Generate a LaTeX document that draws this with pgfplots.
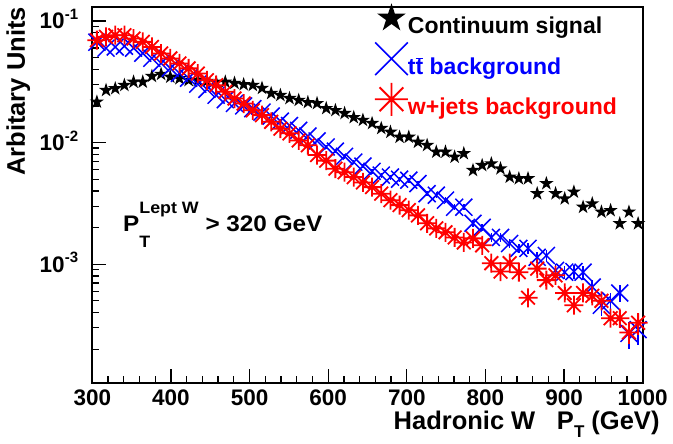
\documentclass[border=0pt]{standalone}
\usepackage{fontspec}
\setmainfont{Liberation Sans}
\usepackage{pgfplots}
\pgfplotsset{compat=1.18}
\usepackage{pgfplotstable}
\usetikzlibrary{plotmarks}

\pgfdeclareplotmark{fstar}{%
  \pgfpathmoveto{\pgfpointpolar{90}{\pgfplotmarksize}}%
  \pgfpathlineto{\pgfpointpolar{126}{0.382\pgfplotmarksize}}%
  \pgfpathlineto{\pgfpointpolar{162}{\pgfplotmarksize}}%
  \pgfpathlineto{\pgfpointpolar{198}{0.382\pgfplotmarksize}}%
  \pgfpathlineto{\pgfpointpolar{234}{\pgfplotmarksize}}%
  \pgfpathlineto{\pgfpointpolar{270}{0.382\pgfplotmarksize}}%
  \pgfpathlineto{\pgfpointpolar{306}{\pgfplotmarksize}}%
  \pgfpathlineto{\pgfpointpolar{342}{0.382\pgfplotmarksize}}%
  \pgfpathlineto{\pgfpointpolar{18}{\pgfplotmarksize}}%
  \pgfpathlineto{\pgfpointpolar{54}{0.382\pgfplotmarksize}}%
  \pgfpathclose
  \pgfusepathqfill}

\pgfdeclareplotmark{rstar}{%
  \pgfpathmoveto{\pgfpoint{-\pgfplotmarksize}{0pt}}%
  \pgfpathlineto{\pgfpoint{\pgfplotmarksize}{0pt}}%
  \pgfpathmoveto{\pgfpoint{0pt}{-\pgfplotmarksize}}%
  \pgfpathlineto{\pgfpoint{0pt}{\pgfplotmarksize}}%
  \pgfpathmoveto{\pgfpoint{-0.72\pgfplotmarksize}{-0.72\pgfplotmarksize}}%
  \pgfpathlineto{\pgfpoint{0.72\pgfplotmarksize}{0.72\pgfplotmarksize}}%
  \pgfpathmoveto{\pgfpoint{-0.72\pgfplotmarksize}{0.72\pgfplotmarksize}}%
  \pgfpathlineto{\pgfpoint{0.72\pgfplotmarksize}{-0.72\pgfplotmarksize}}%
  \pgfusepathqstroke}

\definecolor{rblue}{RGB}{0,0,255}
\definecolor{rred}{RGB}{255,0,0}

\pgfplotsset{
  myleg/.style={legend image code/.code={%
    \path[draw=none,fill=none] (-10pt,-12.25pt) rectangle (10pt,28.25pt);
    \draw[##1, mark size=#1] plot coordinates {(0pt,8pt)};}}
}

\pgfplotstableread{
x sig tt ett wj ewj
305.83 0.0216 0.0668 0 0.0694 0
317.50 0.0269 0.0597 0 0.0739 0
329.17 0.0278 0.0610 0 0.0762 0
340.83 0.0296 0.0620 0 0.0762 0
352.50 0.0315 0.0597 0 0.0716 0
364.17 0.0315 0.0542 0 0.0672 0
375.83 0.0351 0.0493 0 0.0611 0
387.50 0.0365 0.0449 0 0.0539 0
399.17 0.0346 0.0408 0 0.0491 0
410.83 0.0336 0.0371 0 0.0447 0
422.50 0.0325 0.0338 0 0.0407 0
434.17 0.0325 0.0302 0 0.0369 0
445.83 0.0320 0.0274 0 0.0325 0
457.50 0.0312 0.0245 0 0.0296 0
469.17 0.0315 0.0225 0 0.0261 0
480.83 0.0308 0.0210 0 0.0230 0
492.50 0.0300 0.0200 0 0.0209 0
504.17 0.0296 0.0190 0 0.0184 0
515.83 0.0280 0.0178 0 0.0168 0
527.50 0.0254 0.0165 0 0.0148 0
539.17 0.0245 0.0150 0 0.0130 0
550.83 0.0231 0.0138 0 0.0119 0
562.50 0.0223 0.0126 0 0.0104 0
574.17 0.0214 0.0113 0 0.0095 0
585.83 0.0210 0.0103 0 0.0079 0
597.50 0.0191 0.0092 0.04 0.0071 0.04
609.17 0.0184 0.0085 0.04 0.0061 0.04
620.83 0.0174 0.0077 0.04 0.0057 0.04
632.50 0.0161 0.0069 0.04 0.0052 0.04
644.17 0.0153 0.0064 0.04 0.0047 0.04
655.83 0.0144 0.0058 0.05 0.0043 0.05
667.50 0.0131 0.0054 0.05 0.0038 0.05
679.17 0.0122 0.0052 0.05 0.00336 0.05
690.83 0.0111 0.0050 0.05 0.00306 0.05
702.50 0.0111 0.0049 0.05 0.00278 0.05
714.17 0.0101 0.0046 0.05 0.00252 0.05
725.83 0.0095 0.0038 0.05 0.00217 0.05
737.50 0.00838 0.00369 0.06 0.00197 0.06
749.17 0.00838 0.00336 0.06 0.00183 0.06
760.83 0.00762 0.00294 0.06 0.00166 0.06
772.50 0.00813 0.00294 0.06 0.00151 0.06
784.17 0.00592 0.00217 0.07 0.00163 0.06
795.83 0.00650 0.00201 0.07 0.00143 0.07
807.50 0.00671 0.00166 0.08 0.00102 0.08
819.17 0.00611 0.00166 0.08 0.00087 0.09
830.83 0.00521 0.00148 0.09 0.00102 0.08
842.50 0.00506 0.00135 0.09 0.00086 0.09
854.17 0.00506 0.00135 0.10 0.00053 0.12
865.83 0.00381 0.00114 0.10 0.00092 0.09
877.50 0.00461 0.00118 0.11 0.00074 0.10
889.17 0.00381 0.00089 0.12 0.00081 0.10
900.83 0.00346 0.00086 0.12 0.00058 0.12
912.50 0.00393 0.00087 0.13 0.00046 0.14
924.17 0.00295 0.00086 0.13 0.00058 0.12
935.83 0.00315 0.00065 0.15 0.00055 0.13
947.50 0.00269 0.00046 0.18 0.00050 0.14
959.17 0.00277 0.00050 0.17 0.00036 0.16
970.83 0.00216 0.00058 0.16 0.00036 0.17
982.50 0.00269 0.00027 0.25 0.000275 0.20
994.17 0.00216 0.00029 0.25 0.00033 0.20
}\datatab

\newcommand{\supl}[1]{\raisebox{0.42em}{\fontsize{15}{15}\selectfont #1}}

\begin{document}
\begin{tikzpicture}
\begin{axis}[
  scale only axis, width=550.4pt, height=376.3pt,
  xmin=300, xmax=1000, ymode=log, ymin=1.05e-4, ymax=0.13,
  clip=false,
  axis line style={line width=1.8pt},
  tick style={black, line width=1.3pt},
  tick align=inside, xtick pos=left, ytick pos=left,
  major tick length=14pt, minor tick length=7pt,
  xtick={300,400,500,600,700,800,900,1000},
  xticklabels={300,400,500,600,700,800,900,1000},
  minor x tick num=4,
  ytick={0.001,0.01,0.1},
  yticklabels={10\supl{-3},10\supl{-2},10\supl{-1}},
  minor ytick={2e-4,3e-4,4e-4,5e-4,6e-4,7e-4,8e-4,9e-4,2e-3,3e-3,4e-3,5e-3,6e-3,7e-3,8e-3,9e-3,2e-2,3e-2,4e-2,5e-2,6e-2,7e-2,8e-2,9e-2},
  xticklabel style={font=\fontsize{22.5}{22.5}\selectfont\bfseries, inner sep=0pt, anchor=north, yshift=-6pt},
  yticklabel style={font=\fontsize{22.5}{22.5}\selectfont\bfseries, inner sep=0pt, anchor=base east, xshift=-14pt, yshift=-8pt},
  xlabel={Hadronic W\hspace{0.85em}P\raisebox{-0.32em}{\fontsize{17}{17}\selectfont T} (GeV)},
  xlabel style={at={(rel axis cs:1,0)}, anchor=base east, xshift=17pt, yshift=-46pt, inner sep=0pt, font=\fontsize{25.5}{25.5}\selectfont\bfseries},
  ylabel={Arbitary Units},
  ylabel style={at={(rel axis cs:-0.1223,1)}, anchor=base east, rotate=0, inner sep=0pt, font=\fontsize{25.5}{25.5}\selectfont\bfseries},
  legend style={at={(rel axis cs:0.5136,1)}, anchor=north west, yshift=9pt, draw=none, fill=none, inner sep=0pt, outer sep=0pt,
    font=\fontsize{23}{23}\selectfont\bfseries, row sep=0pt,
    nodes={inner sep=0pt},
    /tikz/every even column/.append style={column sep=11pt}},
  legend cell align=left,
]
\addplot[only marks, mark=fstar, mark size=7.5pt, black, myleg=15pt]
  table[x=x, y=sig] {\datatab};
\addlegendentry{Continuum signal}

\addplot[only marks, mark=x, mark size=12pt, rblue, line width=1.5pt, myleg=23pt,
  error bars/.cd, y dir=both, y explicit relative, error mark=none,
  error bar style={line width=1.5pt, rblue}]
  table[x=x, y=tt, y error=ett] {\datatab};
\addlegendentry{\textcolor{rblue}{t$\overline{\mbox{t}}$ background}}

\addplot[only marks, mark=rstar, mark size=9.5pt, rred, line width=1.8pt, myleg=16.5pt,
  error bars/.cd, y dir=both, y explicit relative, error mark=none,
  error bar style={line width=1.8pt, rred}]
  table[x=x, y=wj, y error=ewj] {\datatab};
\addlegendentry{\textcolor{rred}{w+jets background}}

\node[anchor=base west, inner sep=0pt, font=\fontsize{22.5}{22.5}\selectfont\bfseries] at (rel axis cs:0.0558,0.403)
  {\scalebox{1.08}[1]{P\rlap{\raisebox{-0.72em}{\fontsize{16.5}{16.5}\selectfont T}}\raisebox{0.8em}{\fontsize{16.5}{16.5}\selectfont Lept W} > 320 GeV}};
\end{axis}
\pgfresetboundingbox
\path (current axis.south west) ++(-92.3pt,-60.7pt) rectangle ++(673pt,444pt);
\end{tikzpicture}
\end{document}
